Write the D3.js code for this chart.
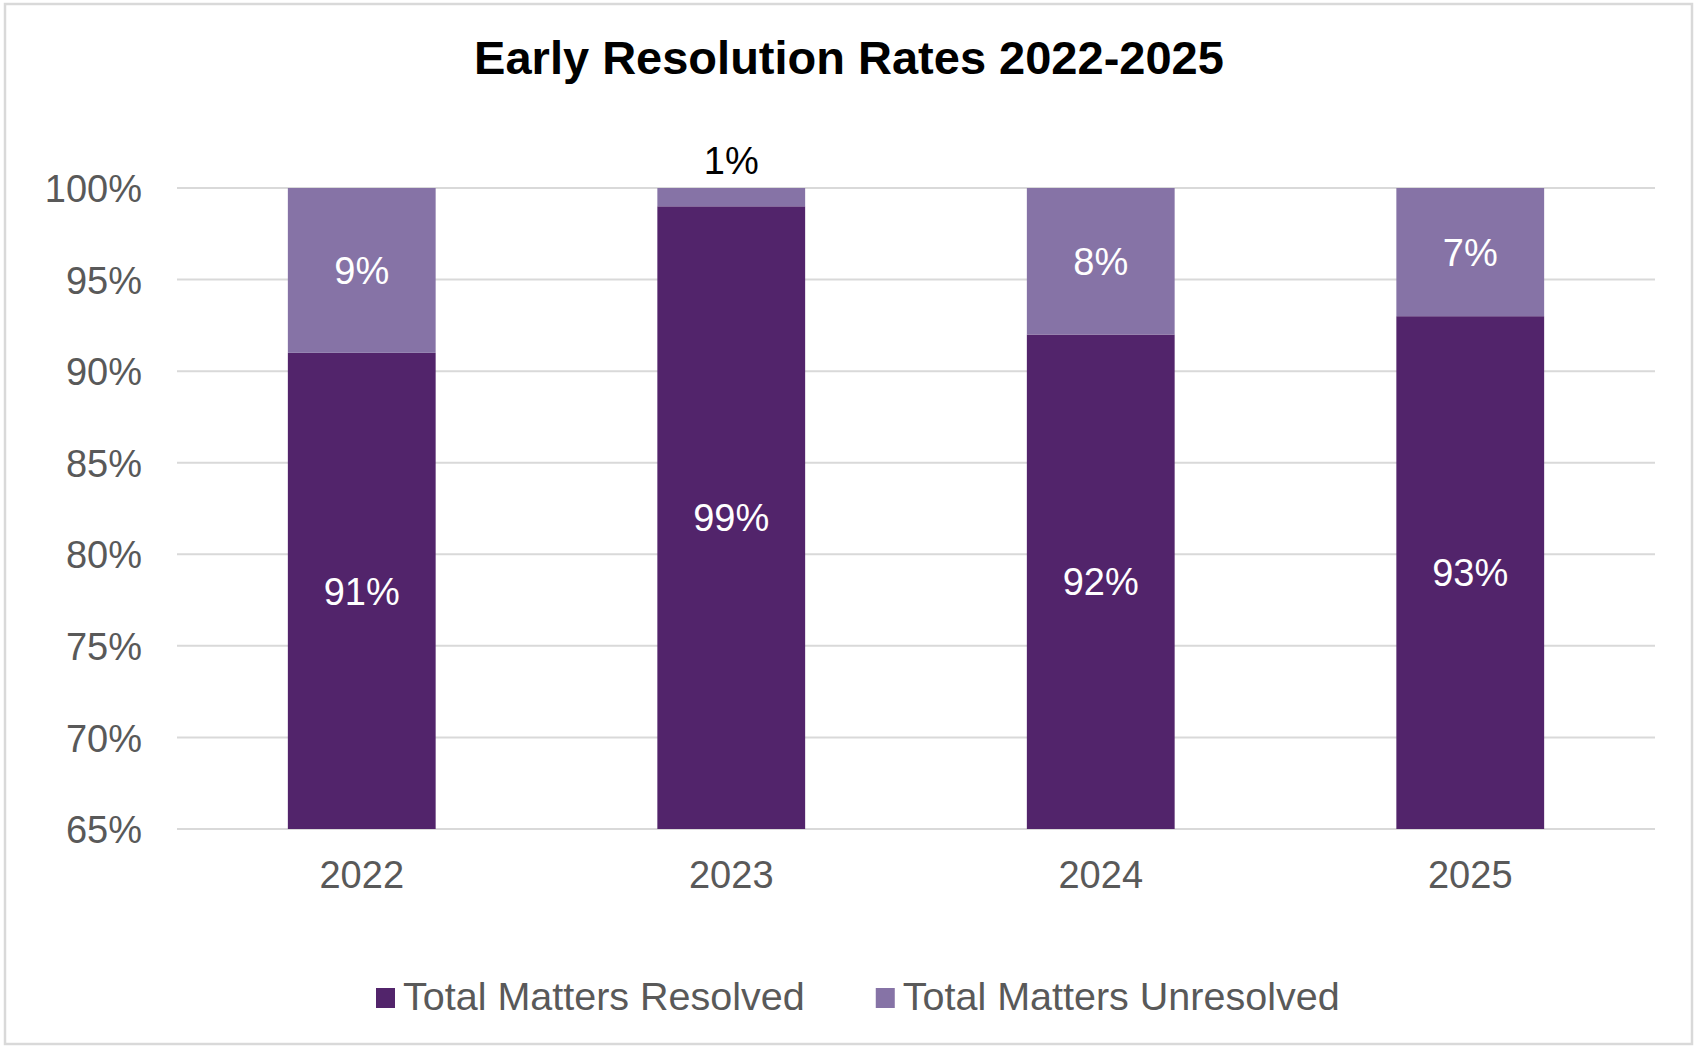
<!DOCTYPE html>
<html>
<head>
<meta charset="utf-8">
<script src="https://cdn.jsdelivr.net/npm/d3@7"></script>
<style>
  html, body { margin: 0; padding: 0; background: #fff; }
  svg { display: block; font-family: "Liberation Sans", Arial, sans-serif; }
</style>
</head>
<body>
<div id="chart"></div>
<script>
// chart data
const years = ['2022', '2023', '2024', '2025'];
const resolved = [91, 99, 92, 93];
const unresolved = [9, 1, 8, 7];
const seriesNames = ['Total Matters Resolved', 'Total Matters Unresolved'];
const yTicks = [65, 70, 75, 80, 85, 90, 95, 100];

const svgWidth = 1695;
const svgHeight = 1046;
const margin = { top: 188, right: 40, bottom: 217, left: 177 };
const width = 1655 - margin.left;
const height = 829 - margin.top;

const colors = ['#52246b', '#8673a6'];

const svg = d3.select('#chart').append('svg')
    .attr('width', svgWidth)
    .attr('height', svgHeight);

// outer border
svg.append('rect')
    .attr('x', 5).attr('y', 4)
    .attr('width', 1687).attr('height', 1040)
    .attr('fill', 'none')
    .attr('stroke', '#d9d9d9')
    .attr('stroke-width', 2.5);

svg.append('text')
    .attr('x', 849)
    .attr('y', 74)
    .attr('text-anchor', 'middle')
    .attr('font-size', 47)
    .attr('font-weight', 'bold')
    .attr('fill', '#000')
    .text('Early Resolution Rates 2022-2025');

const g = svg.append('g')
    .attr('transform', `translate(${margin.left},${margin.top})`);

const x = d3.scaleBand().domain(years).range([0, width]).paddingInner(0.6).paddingOuter(0.3);
const y = d3.scaleLinear().domain([65, 100]).range([height, 0]);

// gridlines
g.selectAll('.grid')
    .data(yTicks)
    .enter().append('line')
    .attr('class', 'grid')
    .attr('x1', 0).attr('x2', width)
    .attr('y1', d => y(d)).attr('y2', d => y(d))
    .attr('stroke', '#d9d9d9')
    .attr('stroke-width', 2);

// y axis labels
const yAxis = g.append('g')
    .call(d3.axisLeft(y).tickValues(yTicks).tickFormat(d => d + '%').tickSize(0).tickPadding(35));
yAxis.select('.domain').remove();
yAxis.selectAll('text')
    .attr('font-family', '"Liberation Sans", Arial, sans-serif')
    .attr('font-size', 38)
    .attr('fill', '#595959')
    .attr('dy', '0.36em');

// x axis labels
const xAxis = g.append('g')
    .attr('transform', `translate(0,${height})`)
    .call(d3.axisBottom(x).tickSize(0).tickPadding(32));
xAxis.select('.domain').remove();
xAxis.selectAll('text')
    .attr('font-family', '"Liberation Sans", Arial, sans-serif')
    .attr('font-size', 38)
    .attr('fill', '#595959')
    .attr('dy', '0.71em');

const rows = years.map((yr, i) => ({ year: yr, resolved: resolved[i], unresolved: unresolved[i] }));
const stack = d3.stack().keys(['resolved', 'unresolved'])(rows);

const layers = g.selectAll('.layer')
    .data(stack)
    .enter().append('g')
    .attr('class', 'layer')
    .attr('fill', (d, i) => colors[i]);

layers.selectAll('rect')
    .data(d => d)
    .enter().append('rect')
    .attr('x', d => x(d.data.year))
    .attr('width', x.bandwidth())
    .attr('y', d => y(Math.min(d[1], 100)))
    .attr('height', d => y(Math.max(d[0], 65)) - y(Math.min(d[1], 100)));

// data labels
stack.forEach((layer, li) => {
    layer.forEach(d => {
        const v = d[1] - d[0];
        const lo = Math.max(d[0], 65), hi = Math.min(d[1], 100);
        const small = v < 3;
        const cy = small ? y(hi) - 28 : (y(lo) + y(hi)) / 2;
        g.append('text')
            .attr('x', x(d.data.year) + x.bandwidth() / 2)
            .attr('y', cy)
            .attr('dy', '0.36em')
            .attr('text-anchor', 'middle')
            .attr('font-size', 38)
            .attr('fill', small ? '#000' : '#fff')
            .text(v + '%');
    });
});

// legend
const legend = svg.append('g').attr('transform', 'translate(0,1010)');
let lx = 376;
seriesNames.forEach((name, i) => {
    legend.append('rect')
        .attr('x', lx).attr('y', -22)
        .attr('width', 19).attr('height', 20)
        .attr('fill', colors[i]);
    const t = legend.append('text')
        .attr('x', lx + 27).attr('y', 0)
        .attr('font-size', 39.5)
        .attr('fill', '#595959')
        .text(name);
    lx += 27 + t.node().getComputedTextLength() + 71;
});
</script>
</body>
</html>
